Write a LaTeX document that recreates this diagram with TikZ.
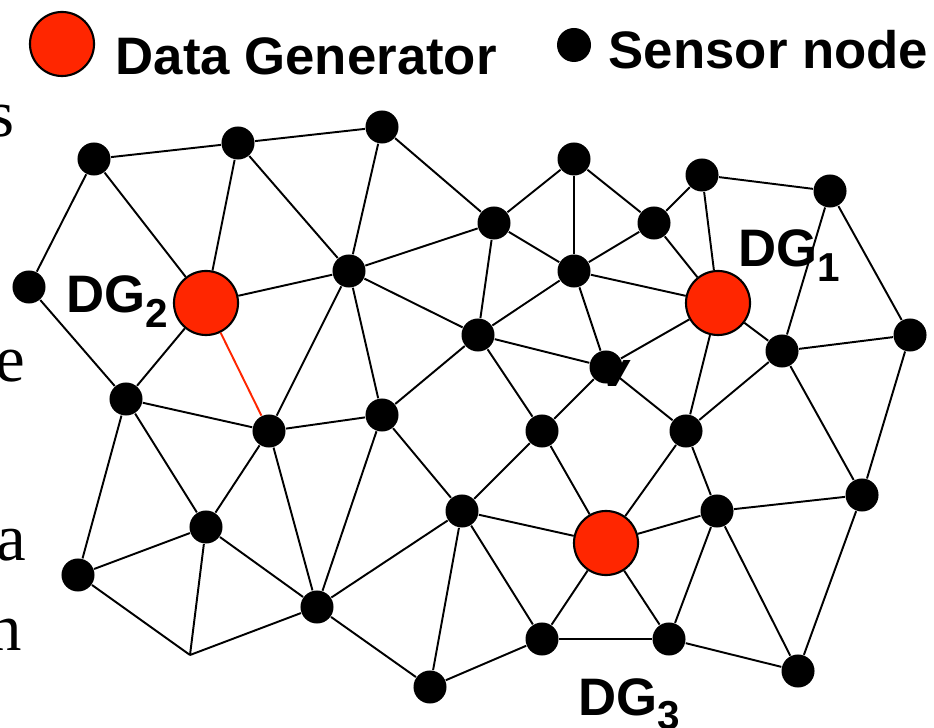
\documentclass[tikz,border=0pt]{standalone}
\usepackage{fontspec}
\setmainfont{Liberation Sans}
\newfontfamily\slidefont{Liberation Serif}
\definecolor{dgred}{RGB}{255,38,0}
\newcommand{\dgsub}[1]{\raisebox{-0.14cm}{\fontsize{11.5}{12}\selectfont #1}}

\begin{document}
\begin{tikzpicture}[x=0.01cm,y=-0.01cm,
  sensor/.style={circle,fill=black,inner sep=0pt,minimum size=0.33cm},
  gen/.style={circle,draw=black,line width=0.6pt,fill=dgred,inner sep=0pt,minimum size=0.64cm},
  lbl/.style={font=\fontsize{15}{18}\selectfont\bfseries,inner sep=0pt,anchor=base west},
  link/.style={line width=0.55pt}]
  \useasboundingbox (0,0) rectangle (934,728);

  % cut-off slide text on the left
  \foreach \ch/\px/\py in {s/-12/137,e/-5/382,a/-4/560,n/-12/650}
    \node[anchor=base west,inner sep=0pt,font=\slidefont\fontsize{19}{22}\selectfont] (txt-\ch) at (\px,\py) {\ch};

  % legend
  \node[gen] (keygen) at (62,44) {};
  \node[lbl] (keygentxt) at (115,75) {Data Generator};
  \node[sensor,minimum size=0.34cm] (keysensor) at (574,45) {};
  \node[lbl] (keysensortxt) at (608,69) {Sensor node};

  % sensor nodes
  \foreach \nm/\px/\py in {s1/94/159,s2/238/143,s3/382/127,s4/29/287,s5/349/271,
      s6/126/399,s7/269/431,s8/382/415,s9/478/335,s10/494/223,s11/574/159,
      s12/654/223,s13/702/175,s14/830/191,s15/574/271,v/606/367,s16/782/351,
      s17/910/335,s18/542/431,s19/686/431,s20/206/527,s21/78/575,s22/317/607,
      s23/462/511,s24/717/511,s25/862/495,s26/542/639,s27/669/639,s28/798/671,
      s29/430/687}
    \node[sensor] (\nm) at (\px,\py) {};
  \coordinate (c) at (190,655);

  % data generators
  \node[gen] (g1) at (718,303) {};
  \node[gen] (g2) at (206,303) {};
  \node[gen] (g3) at (606,543) {};
  \node[lbl] (g1txt) at (738,267) {DG\dgsub{1}};
  \node[lbl] (g2txt) at (66,313) {DG\dgsub{2}};
  \node[lbl] (g3txt) at (578,715) {DG\dgsub{3}};
  \node[anchor=base east,inner sep=0pt,font=\fontsize{14}{16}\selectfont\bfseries\itshape] (vtxt) at (630,387) {v};

  % links
  \foreach \a/\b in {s1/s2,s2/s3,s1/s4,s1/g2,s2/g2,s2/s5,s3/s5,s3/s10,g2/s5,s5/s10,
      s5/s9,s5/s7,s5/s8,s4/s6,g2/s6,s6/s7,s8/s9,s10/s11,s11/s15,s11/s12,s10/s15,
      s15/s12,s12/s13,s13/s14,s12/g1,s13/g1,s14/s16,s14/s17,s10/s9,s15/g1,s15/s9,
      s15/v,g1/v,g1/s16,g1/s19,s16/s17,s16/s19,s9/v,s9/s18,v/s18,v/s19,s16/s25,
      s17/s25,s18/s23,s18/g3,s19/g3,s19/s24,s8/s23,s22/s23,s23/g3,s23/s26,s23/s29,
      g3/s24,g3/s26,g3/s27,s24/s25,s24/s27,s24/s28,s25/s28,s26/s27,s27/s28,s26/s29,
      s6/s21,s6/s20,s7/s8,s7/s20,s7/s22,s8/s22,s20/s21,s20/c,s20/s22,s21/c,c/s22,
      s22/s29}
    \draw[link] (\a) -- (\b);
  \draw[link,dgred] (g2) -- (s7);
\end{tikzpicture}
\end{document}
